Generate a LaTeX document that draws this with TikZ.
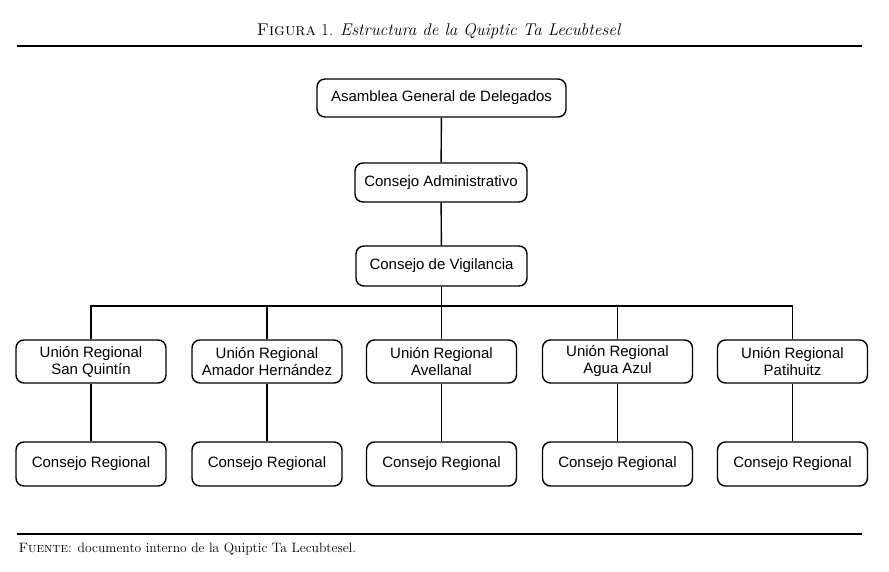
\documentclass[tikz,border=0pt]{standalone}
\usepackage{fontspec}
\newfontfamily\boxfont{Liberation Sans}
\begin{document}
\begin{tikzpicture}[x=1pt,y=-1pt,
  box/.style={draw, line width=1.4pt, rounded corners=8pt, font=\boxfont\fontsize{15}{17}\selectfont, align=center, inner sep=0pt},
  conn/.style={line width=1.4pt},
  rulel/.style={line width=1.6pt}]
\useasboundingbox (0,0) rectangle (889,571);
\node[font=\fontsize{17}{20}\selectfont] (title) at (439,31) {\textsc{Figura} 1. \textit{Estructura de la Quiptic Ta Lecubtesel}};
\coordinate (r1a) at (17,46); \coordinate (r1b) at (862,46);
\draw[rulel] (r1a) -- (r1b);
\coordinate (r2a) at (17,534); \coordinate (r2b) at (862,534);
\draw[rulel] (r2a) -- (r2b);
\node[anchor=west, font=\fontsize{13.6}{16}\selectfont] (fuente) at (15,549) {\textsc{Fuente}: documento interno de la Quiptic Ta Lecubtesel.};

\node[box, minimum width=249pt, minimum height=38pt] (asam) at (441.5,98) {Asamblea General de Delegados};
\node[box, minimum width=172pt, minimum height=39pt] (cadm) at (441,182.5) {Consejo Administrativo};
\node[box, minimum width=171pt, minimum height=40pt] (cvig) at (441.5,266) {Consejo de Vigilancia};

\foreach \i/\x/\t in {1/91/{Unión Regional\\San Quintín},2/267/{Unión Regional\\Amador Hernández},3/441.5/{Unión Regional\\Avellanal},4/617.5/{Unión Regional\\Agua Azul},5/792.5/{Unión Regional\\Patihuitz}}{
  \node[box, minimum width=150pt, minimum height=43pt] (u\i) at (\x,361.5) {\t};
  \node[box, minimum width=150pt, minimum height=44pt] (c\i) at (\x,464) {Consejo Regional};
  \draw[conn] (u\i) -- (c\i);
}
\coordinate (bar) at (441.5,306);
\draw[conn] (asam) -- (cadm);
\draw[conn] (cadm) -- (cvig);
\draw[conn] (cvig.south) -- (bar);
\draw[conn] (u1.north) |- (bar) -| (u5.north);
\draw[conn] (u2.north) -- (u2.north |- bar);
\draw[conn] (u3.north) -- (bar);
\draw[conn] (u4.north) -- (u4.north |- bar);
\end{tikzpicture}
\end{document}
